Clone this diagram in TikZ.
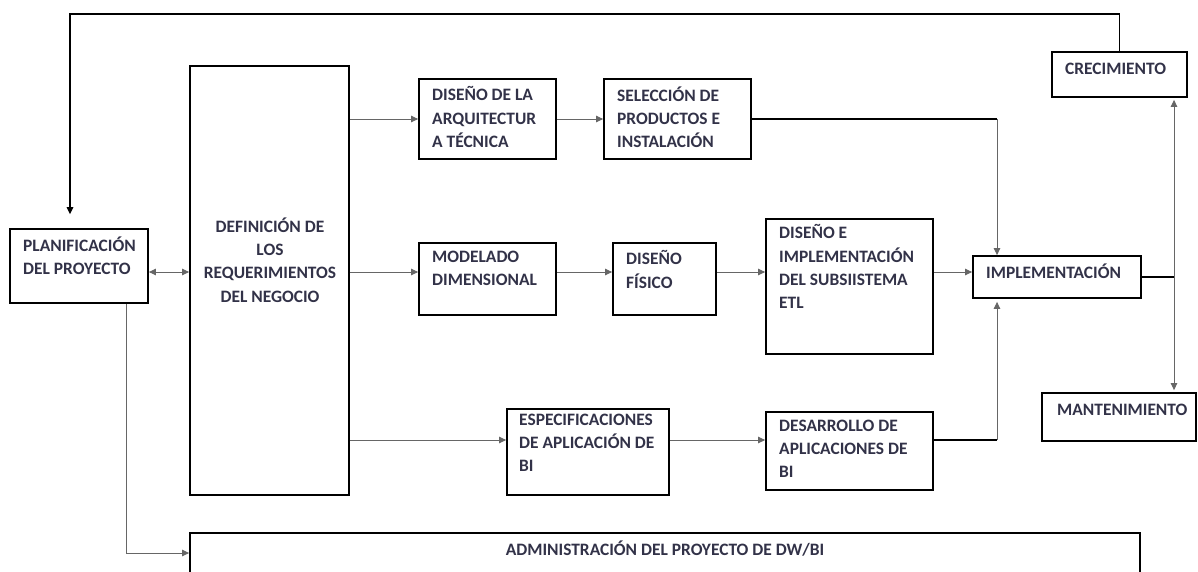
\documentclass[tikz,border=0pt]{standalone}
\usepackage{fontspec}
\setmainfont{Carlito}
\usetikzlibrary{arrows.meta,fit,calc}
\definecolor{txtc}{RGB}{50,50,72}
\begin{document}
\begin{tikzpicture}[x=1pt,y=-1pt,
  box/.style={draw=black, line width=1.8pt, inner sep=0pt},
  txt/.style={inner sep=0pt, text=txtc, font=\fontsize{17.4}{23.3}\selectfont\bfseries, align=left, anchor=north west, execute at begin node=\strut},
  conn/.style={draw=black!60, line width=0.9pt},
  connd/.style={draw=black, line width=1.4pt},
  tip/.style={-{Triangle[length=7pt,width=6.5pt]}},
  tips/.style={{Triangle[length=7pt,width=6.5pt]}-{Triangle[length=7pt,width=6.5pt]}},
]
\useasboundingbox (0,0) rectangle (1198,571);
\fill[white] (0,0) rectangle (1198,571);

% boxes
\node[box, fit={(10,229)(148,303)}] (plan) {};
\node[box, fit={(190,66)(349,495)}] (def) {};
\node[box, fit={(419,79)(556,159)}] (arq) {};
\node[box, fit={(604,79)(751,159)}] (sel) {};
\node[box, fit={(419,243)(556,315)}] (mod) {};
\node[box, fit={(613,243)(716,315)}] (fis) {};
\node[box, fit={(766,219)(933,354)}] (etl) {};
\node[box, fit={(973,256)(1141,298)}] (impl) {};
\node[box, fit={(507,409)(669,495)}] (esp) {};
\node[box, fit={(766,412)(933,490)}] (des) {};
\node[box, fit={(1052,52)(1187,97)}] (crec) {};
\node[box, fit={(1042,393)(1196,441)}] (mant) {};
\node[box, fit={(190,533)(1140,574)}] (adm) {};

% helper coordinates
\coordinate (r1) at (0,119);
\coordinate (r2) at (0,272);
\coordinate (r3) at (0,440);
\coordinate (ctop) at (70,14);
\coordinate (vx) at (1174,0);
\coordinate (jx) at (997,0);
\coordinate (ax) at (126,0);
\coordinate (ar) at (0,553);

% connectors
\draw[conn, tips] (plan.east |- r2) -- (def.west |- r2);
\draw[connd, tip, shorten >=14pt] (crec.north) |- (ctop) -- (ctop |- plan.north);
\draw[conn, tips, shorten <=2pt, shorten >=2pt] (crec.south -| vx) -- (mant.north -| vx);
\draw[connd] (impl.east) -- (impl.east -| vx);
\draw[connd] (sel.east) -- (sel.east -| jx);
\draw[conn, tip] (sel.east -| jx) -- (impl.north -| jx);
\draw[connd] (des.east |- r3) -- (jx |- r3);
\draw[conn, tip, shorten >=3pt] (jx |- r3) -- (impl.south -| jx);
\draw[conn, tip] (etl.east |- r2) -- (impl.west |- r2);
\draw[conn, tip] (def.east |- r1) -- (arq.west |- r1);
\draw[conn, tip] (arq.east |- r1) -- (sel.west |- r1);
\draw[conn, tip] (def.east |- r2) -- (mod.west |- r2);
\draw[conn, tip] (mod.east |- r2) -- (fis.west |- r2);
\draw[conn, tip] (fis.east |- r2) -- (etl.west |- r2);
\draw[conn, tip] (def.east |- r3) -- (esp.west |- r3);
\draw[conn, tip] (esp.east |- r3) -- (des.west |- r3);
\draw[conn, tip] (plan.south -| ax) |- (adm.west |- ar);

% texts
\node[txt] (tplan) at (23,236.4) {PLANIFICACIÓN\\DEL PROYECTO};
\node[txt, align=center, anchor=north] (tdef) at (270,217.4) {DEFINICIÓN DE\\LOS\\REQUERIMIENTOS\\DEL NEGOCIO};
\node[txt] (tarq) at (432,86.4) {DISEÑO DE LA\\ARQUITECTUR\\A TÉCNICA};
\node[txt] (tsel) at (617,86.4) {SELECCIÓN DE\\PRODUCTOS E\\INSTALACIÓN};
\node[txt] (tmod) at (432,250.4) {MODELADO\\DIMENSIONAL};
\node[txt] (tfis) at (626,250.4) {DISEÑO\\FÍSICO};
\node[txt] (tetl) at (779,224.4) {DISEÑO E\\IMPLEMENTACIÓN\\DEL SUBSIISTEMA\\ETL};
\node[txt] (timpl) at (986,262.4) {IMPLEMENTACIÓN};
\node[txt] (tesp) at (519,413.4) {ESPECIFICACIONES\\DE APLICACIÓN DE\\BI};
\node[txt] (tdes) at (779,419.4) {DESARROLLO DE\\APLICACIONES DE\\BI};
\node[txt] (tcrec) at (1065,58.4) {CRECIMIENTO};
\node[txt] (tmant) at (1057,399.4) {MANTENIMIENTO};
\node[txt, anchor=north] (tadm) at (665,539.4) {ADMINISTRACIÓN DEL PROYECTO DE DW/BI};
\end{tikzpicture}
\end{document}
